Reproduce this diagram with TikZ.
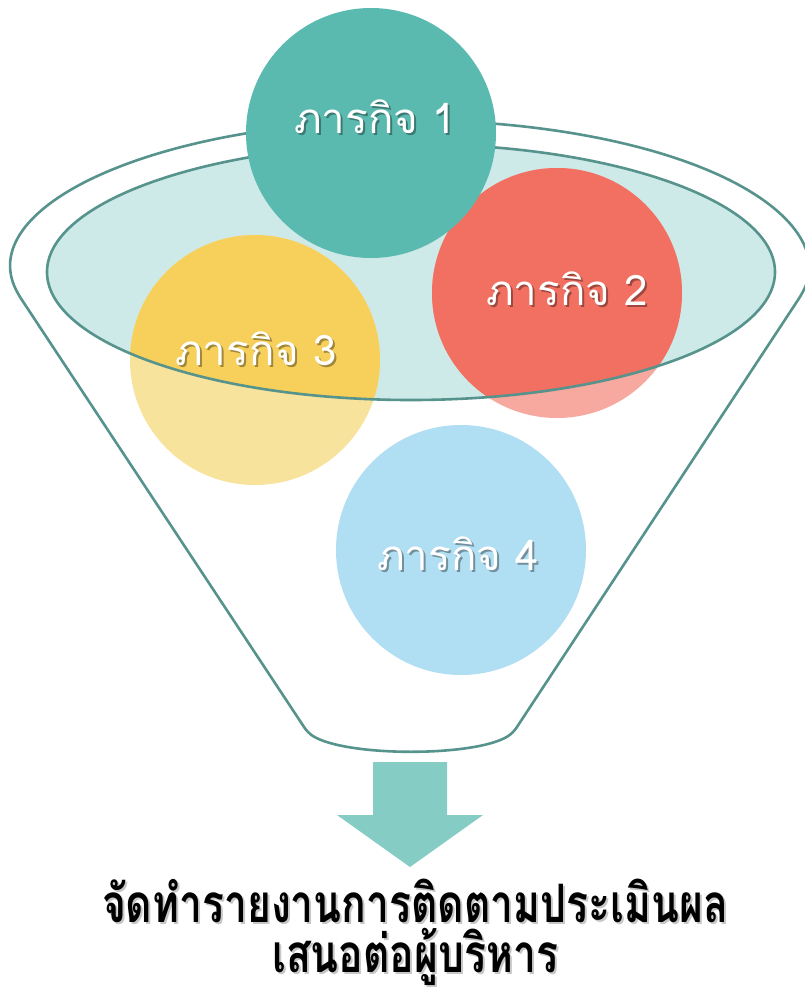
\documentclass[tikz,border=0pt]{standalone}
\usepackage{fontspec}
\newfontfamily\thai[Script=Thai]{Loma}
\definecolor{cteal}{HTML}{5BBAB0}
\definecolor{cred}{HTML}{F27061}
\definecolor{credl}{HTML}{F7A89F}
\definecolor{cyel}{HTML}{F6D05A}
\definecolor{cyell}{HTML}{F8E39C}
\definecolor{cblue}{HTML}{B0DEF2}
\definecolor{cbowl}{HTML}{CDE9E8}
\definecolor{cline}{HTML}{56938C}
\definecolor{carrow}{HTML}{85CCC4}
\tikzset{
  funnelline/.style={draw=cline, line width=2.6pt},
  lbl/.style={text=white, font=\thai\fontsize{42}{46}\selectfont, inner sep=0pt, anchor=base},
  lblshadow/.style={text=black, opacity=0.35, font=\thai\fontsize{42}{46}\selectfont, inner sep=0pt, anchor=base},
  outtext/.style={text=black, font=\thai\bfseries\fontsize{53}{58}\selectfont, inner sep=0pt, anchor=base},
  outshadow/.style={text=black, opacity=0.22, font=\thai\bfseries\fontsize{53}{58}\selectfont, inner sep=0pt, anchor=base},
}
\begin{document}
\begin{tikzpicture}[x=1pt,y=-1pt]
\useasboundingbox (0,0) rectangle (804,991);
% outer funnel
\draw[funnelline, fill=white, rounded corners=6pt]
  (18,294) arc[start angle=170, end angle=370, x radius=398, y radius=148]
  -- (513,733) .. controls (475,757) and (347,757) .. (308,733) -- cycle;
% bowl
\fill[cbowl] (411,272) ellipse[x radius=364, y radius=128];
% circles (light parts)
\fill[credl] (557,293) circle[radius=125];
\fill[cyell] (255,360) circle[radius=125];
\fill[cblue] (461,550) circle[radius=125];
% full colours inside the bowl
\begin{scope}
  \clip (411,272) ellipse[x radius=364, y radius=128];
  \fill[cred] (557,293) circle[radius=125];
  \fill[cyel] (255,360) circle[radius=125];
\end{scope}
\draw[funnelline] (411,272) ellipse[x radius=364, y radius=128];
\fill[cteal] (371,133) circle[radius=125];
% labels
\node[coordinate] (c1) at (375,133) {};
\node[coordinate] (c2) at (567,305) {};
\node[coordinate] (c3) at (256,365) {};
\node[coordinate] (c4) at (458,570) {};
\foreach \c/\t in {c1/1,c2/2,c3/3,c4/4}{
  \node[lblshadow] at ([shift={(2,2)}]\c) {ภารกิจ \t};
  \node[lbl] (l\t) at (\c) {ภารกิจ \t};
}
% arrow
\fill[carrow] (373,762) -- (447,762) -- (447,815) -- (483,815) -- (410,867) -- (337,815) -- (373,815) -- cycle;
% output text
\node[outshadow] at (417,924) {\scalebox{0.77}[1]{จัดทำรายงานการติดตามประเมินผล}};
\node[outtext] (o1) at (415,922) {\scalebox{0.77}[1]{จัดทำรายงานการติดตามประเมินผล}};
\node[outshadow] at (417,974) {\scalebox{0.77}[1]{เสนอต่อผู้บริหาร}};
\node[outtext] (o2) at (415,972) {\scalebox{0.77}[1]{เสนอต่อผู้บริหาร}};
\end{tikzpicture}
\end{document}
